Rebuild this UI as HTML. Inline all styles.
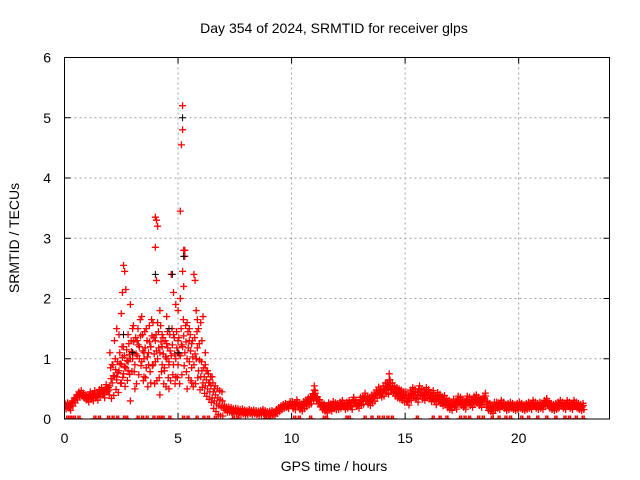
<!DOCTYPE html>
<html><head><meta charset="utf-8"><style>
html,body{margin:0;padding:0;background:#fff;width:640px;height:480px;overflow:hidden}
text{font-family:"Liberation Sans",sans-serif;font-size:14px;fill:#000}
</style></head><body>
<svg id="chart" width="640" height="480" xmlns="http://www.w3.org/2000/svg">
<rect width="640" height="480" fill="#fff"/>
<defs><clipPath id="plotclip"><rect x="64.5" y="57.5" width="545" height="361.5"/></clipPath></defs>
<g id="grid"></g>
<g id="marks" clip-path="url(#plotclip)"></g>
<rect x="64.5" y="57.5" width="545" height="361.5" fill="none" stroke="#000" stroke-width="1"/>
<g id="ticks"></g>
<text x="334" y="33" text-anchor="middle">Day 354 of 2024, SRMTID for receiver glps</text>
<text x="334" y="471" text-anchor="middle">GPS time / hours</text>
<text x="19" y="238" text-anchor="middle" transform="rotate(-90 19 238)">SRMTID / TECUs</text>
</svg>
<script>
const xTicks=[0,5,10,15,20];
const yTicks=[0,1,2,3,4,5,6];
const baseStart=0, baseStep=0.1;
const baseValues=[
.2,.22,.18,.25,.3,.35,.4,.42,.38,.35,
.33,.38,.35,.4,.36,.42,.45,.4,.5,.45,
.55,.6,.7,.65,.8,.9,.75,.85,.95,1.0,
1.1,.9,1.05,1.2,.95,1.0,.85,1.1,1.2,.9,
.95,1.0,1.1,.9,.85,1.0,.95,1.05,.9,1.0,
.9,1.05,1.2,1.1,1.0,.95,.85,.9,1.0,.8,
.7,.6,.55,.5,.45,.35,.3,.25,.22,.2,
.18,.15,.15,.14,.12,.13,.12,.11,.12,.1,
.1,.12,.1,.11,.1,.09,.1,.12,.1,.08,
.09,.1,.08,.12,.15,.18,.2,.22,.2,.25,
.22,.2,.25,.2,.18,.22,.25,.28,.3,.35,
.4,.3,.25,.2,.18,.15,.2,.18,.22,.2,
.2,.22,.25,.2,.22,.25,.2,.3,.25,.22,
.28,.3,.35,.3,.28,.32,.35,.4,.45,.42,
.45,.5,.48,.55,.5,.45,.42,.4,.38,.35,
.35,.3,.38,.42,.4,.35,.45,.4,.38,.42,
.4,.35,.38,.3,.35,.32,.28,.3,.25,.22,
.2,.25,.22,.3,.28,.25,.22,.3,.28,.25,
.3,.32,.28,.25,.3,.35,.2,.18,.15,.2,
.22,.2,.25,.22,.18,.2,.22,.2,.18,.2,
.22,.2,.18,.2,.22,.2,.25,.22,.2,.22,
.2,.25,.28,.22,.2,.18,.2,.22,.25,.22,
.2,.25,.22,.2,.25,.22,.2,.18,.2];
// scatter half-width of the noisy band, one value per hour (0..22)
const hourlySpread=[.05,.07,.3,.45,.45,.45,.25,.05,.04,.04,.07,.07,.06,.08,.1,.1,.09,.08,.08,.06,.06,.06,.06];
const scatterTimes=[2.6,2.65,2.55,2.7,2.5,2.3,2.2,2.4,2.1,2.0,2.6,2.8,3.0,3.2,3.4,3.6,3.8,4.0,4.05,4.1,4.0,4.05,4.2,4.1,4.3,4.5,4.7,4.8,4.9,5.0,5.1,5.1,5.15,5.2,5.2,5.25,5.3,5.2,5.3,5.25,5.4,5.5,5.6,5.7,5.75,5.8,5.85,5.9,6.0,6.1,6.05,5.8,5.6,5.4,4.6,4.2,3.8,3.5,3.1,2.9,4.0,4.5,4.8,4.4,3.3,3.7,4.9,5.0,6.2,6.3,6.4,6.2,3.0,2.8,2.5,2.3,6.5,6.6,11.0,11.0,14.3,14.3,15.6,14.2,3.9,4.3,4.6,5.5,3.5,2.9];
const scatterValues=[2.55,2.45,2.1,2.15,1.75,1.5,1.3,1.4,0.9,1.1,1.2,1.4,1.5,1.3,1.7,1.5,1.2,3.35,3.3,3.2,2.85,2.3,1.8,1.6,1.4,1.7,2.4,2.1,1.9,1.8,2.0,3.45,4.55,4.8,5.2,2.8,2.8,2.45,2.7,2.2,1.6,1.3,1.25,2.4,2.3,1.8,1.65,1.5,1.6,1.7,1.3,1.0,0.6,0.5,0.5,0.4,0.6,0.7,0.5,0.3,1.3,1.25,1.4,0.8,1.0,0.9,0.7,1.3,0.9,0.8,0.6,1.1,1.0,0.8,0.6,0.7,0.7,0.5,0.55,0.48,0.75,0.65,0.5,0.6,1.6,1.2,0.9,1.5,1.1,1.9];
const blackTimes=[4.0,4.75,5.2,5.25,2.6,3.0,4.6,5.0];
const blackValues=[2.4,2.4,5.0,2.7,1.4,1.1,1.5,1.1];
const zeroTimes=[0.1,0.2,0.3,0.4,0.6,1.3,1.5,1.9,2.1,2.3,2.6,2.7,3.2,3.4,3.6,3.9,4.1,4.2,4.3,4.6,5.2,5.4,5.8,6.1,6.3,6.6,7.4,7.6,8.8,9.0,10.1,10.3,10.8,11.4,11.5,12.4,12.5,13.2,13.5,13.8,14.0,14.2,14.4,15.5,16.2,16.5,16.8,17.4,17.6,17.8,18.2,18.4,18.8,19.1,19.4,19.6,20.1,20.4,20.8,21.2,21.6,22.0,22.2,22.5,22.8];

const NS='http://www.w3.org/2000/svg';
const X0=64.5,X1=609.5,Y0=419,Y1=57.5,XMAX=24,YMAX=6;
function sx(t){return X0+(X1-X0)*t/XMAX;}
function sy(v){return Y0-(Y0-Y1)*v/YMAX;}
function mk(tag,attrs,parent){const e=document.createElementNS(NS,tag);for(const k in attrs)e.setAttribute(k,attrs[k]);parent.appendChild(e);return e;}
const grid=document.getElementById('grid'),ticks=document.getElementById('ticks'),marks=document.getElementById('marks');
xTicks.forEach(t=>{
  const x=sx(t);
  if(t>0){const g=mk('line',{x1:x,x2:x,y1:Y1,y2:Y0,stroke:'#a0a0a0','stroke-dasharray':'2,3'},grid);
  
  }
  const l=mk('text',{x:x,y:443,'text-anchor':'middle'},ticks);l.textContent=t;
  
  
  mk('line',{x1:x,x2:x,y1:Y0,y2:Y0-6,stroke:'#000'},ticks);
  mk('line',{x1:x,x2:x,y1:Y1,y2:Y1+6,stroke:'#000'},ticks);
});
yTicks.forEach(v=>{
  const y=sy(v);
  if(v>0&&v<6){const g=mk('line',{x1:X0,x2:X1,y1:y,y2:y,stroke:'#a0a0a0','stroke-dasharray':'2,3'},grid);
  
  }
  const l=mk('text',{x:51,y:y+5,'text-anchor':'end'},ticks);l.textContent=v;
  
  
  mk('line',{x1:X0,x2:X0+6,y1:y,y2:y,stroke:'#000'},ticks);
  mk('line',{x1:X1,x2:X1-6,y1:y,y2:y,stroke:'#000'},ticks);
});
function cross(t,v,color,name,w){
  const x=sx(t),y=sy(v);
  const p=mk('path',{d:`M${x-3.5},${y}h7M${x},${y-3.5}v7`,stroke:color,'stroke-width':w||1.3,fill:'none'},marks);
  
  
}
zeroTimes.forEach(t=>{cross(t,0,'#ff0000','srmtid-zero-point',1.6);cross(t+0.08,0,'#ff0000','srmtid-zero-point',1.6);});
baseValues.forEach((v,i)=>{
  const t=baseStart+i*baseStep;
  const s=hourlySpread[Math.min(hourlySpread.length-1,Math.floor(t))];
  cross(t,v,'#ff0000','srmtid-point');
  cross(t+0.035,v+s,'#ff0000','srmtid-point');
  cross(t+0.07,Math.max(0.05,v-s*0.7),'#ff0000','srmtid-point');
  cross(t+0.05,v+s*0.4,'#ff0000','srmtid-point');
});
scatterTimes.forEach((t,i)=>cross(t,scatterValues[i],'#ff0000','srmtid-point'));
blackTimes.forEach((t,i)=>cross(t,blackValues[i],'#000000','srmtid-black-point',1));
</script>
</body></html>
